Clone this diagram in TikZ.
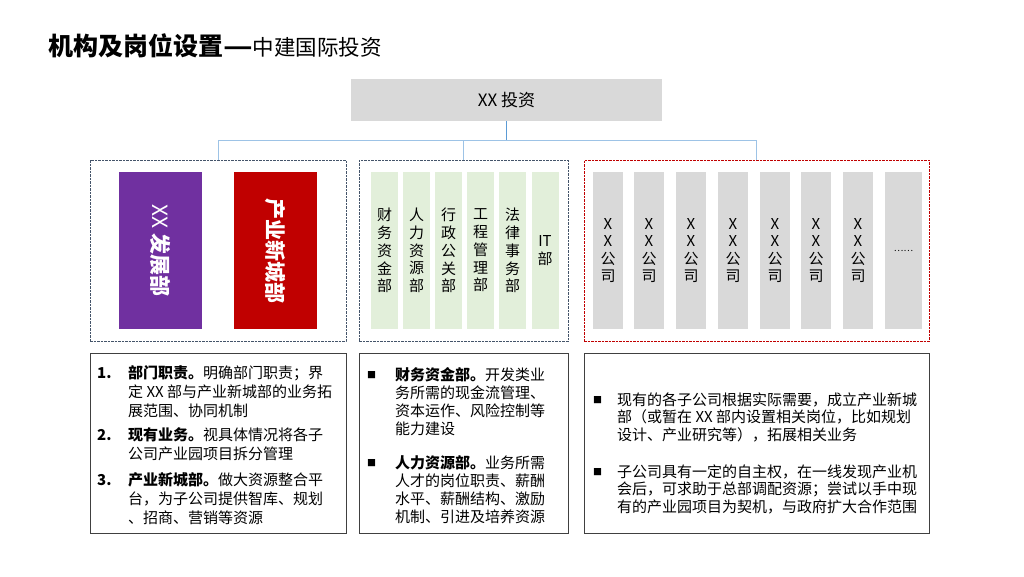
\documentclass[tikz,border=0pt]{standalone}
\usepackage{fontspec}
\setmainfont{Noto Sans CJK SC}
\usetikzlibrary{positioning}
\definecolor{boxgray}{HTML}{D9D9D9}
\definecolor{devpurple}{HTML}{7030A0}
\definecolor{newred}{HTML}{C00000}
\definecolor{paleleaf}{HTML}{E2EFDA}
\definecolor{slate}{HTML}{44546A}
\definecolor{linkblue}{HTML}{9DC3E6}
\definecolor{trunkblue}{HTML}{5B9BD5}
\begin{document}
\begin{tikzpicture}[x=1pt,y=-1pt,
	topbox/.style={fill=boxgray, minimum width=311pt, minimum height=42pt, inner sep=0pt, font=\fontsize{17}{17}\selectfont},
	groupbox/.style={draw=slate, dash pattern=on 2.5pt off 1pt, line width=0.9pt, minimum height=181pt, inner sep=0pt},
	deptbox/.style={rotate=-90, minimum width=157pt, minimum height=83pt, inner sep=0pt, text=white, font=\bfseries\fontsize{21}{21}\selectfont},
	unitcol/.style={fill=paleleaf, minimum width=27pt, minimum height=157pt, inner sep=0pt, align=center, font=\fontsize{15}{17.8}\selectfont},
	firmcol/.style={fill=boxgray, minimum width=30pt, minimum height=157pt, inner sep=0pt, align=center, font=\fontsize{15}{17.5}\selectfont},
	notebox/.style={draw=black!75, line width=1pt, minimum height=180pt, inner sep=0pt},
	body/.style={anchor=north west, inner sep=0pt, align=left},
	bullet/.style={inner sep=0pt, font=\fontsize{9}{9}\selectfont},
	link/.style={draw=linkblue, line width=1pt},
	trunk/.style={draw=trunkblue, line width=1pt}]
	\useasboundingbox (0,0) rectangle (1024,576);

	% title
	\node[anchor=west, inner sep=0pt] (title) at (48,46) {\bfseries\fontsize{25}{25}\selectfont 机构及岗位设置\scalebox{1.3}[1]{—}\mdseries\fontsize{21.5}{21.5}\selectfont 中建国际投资};

	% head box and the three groups
	\node[topbox] (top) at (506.5,100) {XX 投资};
	\node[groupbox, minimum width=256pt] (grpA) at (218,250.5) {};
	\node[groupbox, minimum width=209pt] (grpB) at (463.5,250.5) {};
	\node[groupbox, minimum width=345pt, draw=newred] (grpC) at (756.5,250.5) {};

	% connectors
	\coordinate (bus) at (0,140);
	\draw[link] (grpA.north) -- (grpA.north |- bus) -- (grpC.north |- bus) -- (grpC.north);
	\draw[link] (grpB.north) -- (grpB.north |- bus);
	\draw[trunk] (top.south) -- (top.south |- bus);

	% left group: two departments
	\node[deptbox, fill=devpurple] (dev) at (160.5,250.5) {{\mdseries XX} 发展部};
	\node[deptbox, fill=newred] (newcity) at (275,250.5) {产业新城部};

	% middle group: functional departments
	\foreach \x/\name/\txt in {384.5/fin/财\\务\\资\\金\\部, 416.5/hr/人\\力\\资\\源\\部, 448.5/adm/行\\政\\公\\关\\部, 480.5/eng/工\\程\\管\\理\\部, 512.5/law/法\\律\\事\\务\\部, 545/it/IT\\部} {
		\node[unitcol] (\name) at (\x,250.5) {\txt};
	}

	% right group: subsidiaries
	\foreach \x/\i in {608/1, 649/2, 691/3, 733/4, 775/5, 816/6, 858/7} {
		\node[firmcol] (firm\i) at (\x,250.5) {X\\X\\公\\司};
	}
	\node[firmcol, minimum width=37pt, font=\fontsize{9}{9}\selectfont] (firm8) at (903.5,250.5) {……};

	% notes below
	\node[notebox, minimum width=256pt] (noteA) at (218,443) {};
	\node[notebox, minimum width=209pt] (noteB) at (463.5,443) {};
	\node[notebox, minimum width=345pt] (noteC) at (756.5,443) {};

	\begin{scope}[font=\fontsize{15}{19}\selectfont]
		\foreach \y/\n in {373/1, 435/2, 480/3} {
			\node[anchor=west, inner sep=0pt, font=\bfseries\fontsize{15}{15}\selectfont] (num\n) at (97,\y) {\n.};
		}
		\node[body] (itemA1) at (128,365.5) {\textbf{部门职责。}明确部门职责；界\\定 XX 部与产业新城部的业务拓\\展范围、协同机制};
		\node[body] (itemA2) at (128,427.5) {\textbf{现有业务。}视具体情况将各子\\公司产业园项目拆分管理};
		\node[body] (itemA3) at (128,472.5) {\textbf{产业新城部。}做大资源整合平\\台，为子公司提供智库、规划\\、招商、营销等资源};
	\end{scope}

	\begin{scope}[font=\fontsize{15}{17.8}\selectfont]
		\node[bullet] (dotB1) at (371.5,375) {■};
		\node[bullet] (dotB2) at (371.5,463) {■};
		\node[body] (itemB1) at (395,367.5) {\textbf{财务资金部。}开发类业\\务所需的现金流管理、\\资本运作、风险控制等\\能力建设};
		\node[body] (itemB2) at (395,455.5) {\textbf{人力资源部。}业务所需\\人才的岗位职责、薪酬\\水平、薪酬结构、激励\\机制、引进及培养资源};
	\end{scope}

	\begin{scope}[font=\fontsize{15}{17.5}\selectfont]
		\node[bullet] (dotC1) at (597.5,400) {■};
		\node[bullet] (dotC2) at (597.5,472) {■};
		\node[body] (itemC1) at (617,392.5) {现有的各子公司根据实际需要，成立产业新城\\部（或暂在 XX 部内设置相关岗位，比如规划\\设计、产业研究等），拓展相关业务};
		\node[body] (itemC2) at (617,464.5) {子公司具有一定的自主权，在一线发现产业机\\会后，可求助于总部调配资源；尝试以手中现\\有的产业园项目为契机，与政府扩大合作范围};
	\end{scope}
\end{tikzpicture}
\end{document}
